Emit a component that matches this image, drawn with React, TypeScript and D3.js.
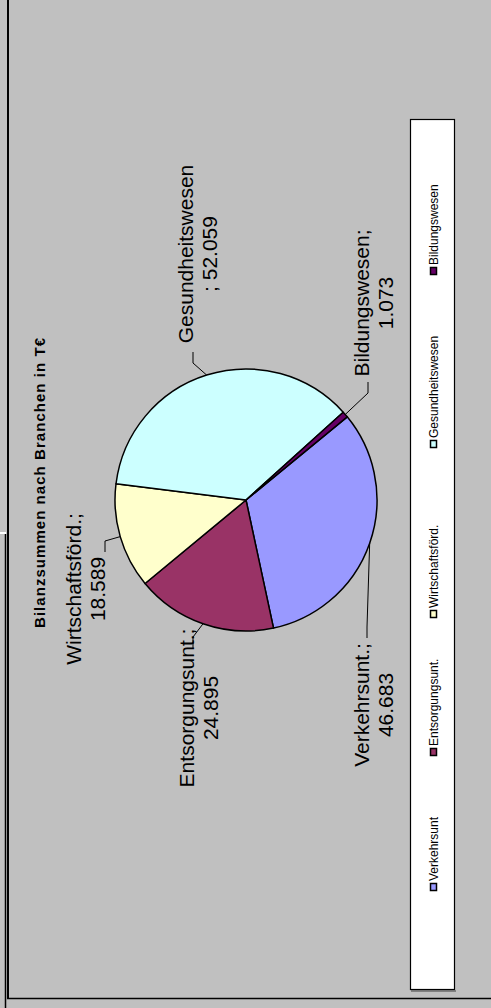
import React from "react";
import * as d3 from "d3";

// ---- data ----
const categories = ["Verkehrsunt.", "Entsorgungsunt.", "Wirtschaftsförd.", "Gesundheitswesen", "Bildungswesen"];
const legendNames = ["Verkehrsunt", "Entsorgungsunt.", "Wirtschaftsförd.", "Gesundheitswesen", "Bildungswesen"];
const values = [46683, 24895, 18589, 52059, 1073];
const colors = ["#9999FF", "#993366", "#FFFFCC", "#CCFFFF", "#660066"];
const title = "Bilanzsummen  nach Branchen in T€";

// ---- layout ----
const W = 491, H = 1008;
const cx = 246, cy = 500, R = 131;
const startDeg = 50.6;
const labelFont = 21;
const lineGap = 24;
// x = baseline of first line (rotated text), y = center of text along reading direction
const labelLayout = [
  { x: 369, y: 705, end: [367, 638], split: false },
  { x: 194, y: 708, end: [193, 648], split: false },
  { x: 81, y: 589, end: [105, 552], split: false },
  { x: 193, y: 254, end: [193, 352], split: true },
  { x: 369, y: 303, end: [368, 382], split: false },
];
const legendY = [887, 752, 614, 444, 271];

const de = d3.formatLocale({ decimal: ",", thousands: ".", grouping: [3], currency: ["", " €"] });
const fmt = de.format(",d");

export default function App() {
  const pie = d3
    .pie<number>()
    .sort(null)
    .startAngle((startDeg * Math.PI) / 180)
    .endAngle((startDeg * Math.PI) / 180 + 2 * Math.PI);
  const arcs = pie(values);
  const arc = d3.arc<d3.PieArcDatum<number>>().innerRadius(0).outerRadius(R);
  const font = "'Liberation Sans', Arial, Helvetica, sans-serif";

  return (
    <svg
      width={W}
      height={H}
      style={{ position: "fixed", left: 0, top: 0, display: "block" }}
      fontFamily={font}
    >
      <rect x={0} y={0} width={W} height={H} fill="#C0C0C0" />
      {/* frame lines */}
      <line x1={8} y1={0} x2={8} y2={998} stroke="#000" strokeWidth={2} />
      <line x1={7} y1={998.5} x2={W} y2={998.5} stroke="#000" strokeWidth={1.5} />
      <line x1={0} y1={533} x2={6} y2={533} stroke="#fff" strokeWidth={2} />
      <line x1={5.5} y1={534} x2={5.5} y2={H} stroke="#000" strokeWidth={1.5} />

      {/* title */}
      <text
        transform={`translate(45,483) rotate(-90)`}
        textAnchor="middle"
        fontWeight="bold"
        fontSize={15}
        textLength={290}
        lengthAdjust="spacing"
        fill="#000"
      >
        {title}
      </text>

      {/* pie */}
      <g transform={`translate(${cx},${cy})`}>
        {arcs.map((a, i) => (
          <path key={i} d={arc(a) || ""} fill={colors[i]} stroke="#000" strokeWidth={1.5} strokeLinejoin="round" />
        ))}
      </g>

      {/* leader lines */}
      {arcs.map((a, i) => {
        const mid = (a.startAngle + a.endAngle) / 2;
        const px = cx + R * Math.sin(mid);
        const py = cy - R * Math.cos(mid);
        const [ex, ey] = labelLayout[i].end;
        const dir = Math.sign(cy - ey);
        const elx = ex;
        const ely = ey + dir * 11;
        return (
          <polyline
            key={i}
            points={`${px},${py} ${elx},${ely} ${ex},${ey}`}
            fill="none"
            stroke="#000"
            strokeWidth={1}
          />
        );
      })}

      {/* data labels */}
      {categories.map((c, i) => {
        const L = labelLayout[i];
        const line1 = L.split ? c : `${c};`;
        const line2 = L.split ? `; ${fmt(values[i])}` : fmt(values[i]);
        return (
          <g key={i} fontSize={labelFont} fill="#000">
            <text transform={`translate(${L.x},${L.y}) rotate(-90)`} textAnchor="middle">
              {line1}
            </text>
            <text transform={`translate(${L.x + lineGap},${L.y}) rotate(-90)`} textAnchor="middle">
              {line2}
            </text>
          </g>
        );
      })}

      {/* legend */}
      <line x1={411} y1={991} x2={456} y2={991} stroke="#808080" strokeWidth={2} />
      <rect x={410.5} y={119.5} width={44} height={870} fill="#fff" stroke="#000" strokeWidth={1.2} />
      {legendNames.map((n, i) => (
        <g key={i}>
          <rect x={430.5} y={legendY[i] - 3.5} width={6} height={7} fill={colors[i]} stroke="#000" strokeWidth={1.5} />
          <text
            transform={`translate(437.5,${legendY[i] - 6}) rotate(-90)`}
            fontSize={12}
            fill="#000"
            textAnchor="start"
          >
            {n}
          </text>
        </g>
      ))}
    </svg>
  );
}
